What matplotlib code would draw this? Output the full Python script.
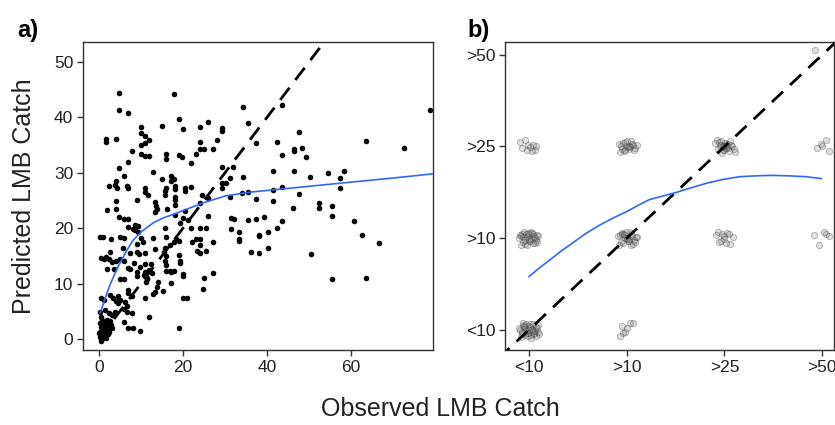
import numpy as np
import matplotlib.pyplot as plt

plt.rcParams['font.family'] = ['Liberation Sans', 'DejaVu Sans']

# Panel a: observed vs predicted LMB catch
obs_a = [1.7, 1.7, 4.0, 4.8, 4.8, 6.9, 4.8, 6.9, 6.0, 7.8, 4.0,
         2.4, 3.7, 4.2, 6.6, 6.9,
         10.0, 10.0, 11.0, 11.9, 10.0, 11.0, 10.0, 11.0, 11.9,
         12.9, 15.0, 15.0, 16.0, 16.0, 17.1, 17.1, 17.9, 17.9, 19.0, 19.0, 19.7, 20.0, 21.9, 23.1,
         24.0, 24.0, 24.0, 25.0, 26.0, 27.2, 28.0, 29.2, 29.2, 29.2, 31.9, 34.2, 34.3, 31.2, 35.4,
         37.4, 43.5, 42.3, 41.4, 43.5, 46.4, 46.4, 46.4, 47.5, 48.3, 49.3, 50.2, 54.5, 57.4, 58.3,
         63.5, 72.7, 78.8,
         11.0, 16.0, 18.0, 20.5, 22.0, 29.2, 29.2, 30.2, 41.4, 43.6, 57.4,
         11.0, 11.7, 15.7, 15.7, 18.1, 18.1, 18.1, 18.1, 20.5, 9.0, 4.0, 4.0, 1.9, 13.3, 13.6,
         13.8, 13.3, 16.2, 4.8, 5.9, 6.9, 18.1, 20.5, 24.0, 24.5, 26.0, 31.2, 34.0, 35.4, 47.6,
         37.4, 41.4, 46.2, 52.4, 52.4, 55.5, 55.5, 26.0, 31.4, 32.1, 35.4, 37.4, 39.3, 43.5, 60.6,
         8.6, 9.3, 8.6, 8.2, 9.3, 6.9, 15.7, 19.3, 20.0, 21.3, 22.0, 24.0, 25.4, 31.4,
         5.0, 6.0, 1.0, 2.9, 9.0, 10.0, 10.5, 12.9, 13.3, 16.0, 17.0, 17.8, 18.4, 15.7, 15.5,
         16.0, 15.7, 16.0, 22.1, 23.0, 24.0, 19.3, 19.3, 20.0, 19.0, 19.0, 11.0, 9.0, 9.6, 5.7,
         2.6, 7.5, 5.0, 6.0, 1.7, 2.4, 3.1, 4.0, 8.3, 9.7, 11.0, 12.5, 7.0, 7.5, 11.0, 12.0,
         2.0, 3.5, 16.0, 17.0, 17.8, 9.0,
         33.3, 33.3, 33.3, 38.1, 38.1, 40.2, 42.3, 62.6, 66.6, 27.2, 24.0, 25.4, 24.0, 23.3,
         36.2, 38.1, 40.2, 50.5, 27.2, 25.0, 55.5, 63.5,
         0.2, 0.5, 1.2, 5.0, 6.0, 9.0, 10.7, 11.5, 12.0, 12.7, 17.1, 17.1, 20.0, 13.9, 14.0,
         11.2, 11.5,
         24.8, 13.3, 15.3, 12.9, 11.0, 7.0, 7.0, 7.8, 2.6, 3.3, 4.0, 4.6, 5.0, 4.5, 6.2, 6.7,
         6.0, 6.7, 7.8, 20.0, 21.0, 11.9, 1.4, 2.4, 3.1, 3.8, 6.0, 7.0, 8.0, 9.8, 19.0, 0.3,
         0.5, 1.3,
         0.2, 0.4, 0.5, 0.6, 0.3, 0.8, 1.0, 1.1, 1.2, 1.4, 1.5, 1.6, 1.8, 2.0, 2.1, 2.3, 2.5,
         2.7, 0.7, 0.9, 1.3, 1.7, 0.1, 2.9, 3.2, 2.2, 0.6, 1.0, 1.9, 0.4]
pred_a = [36.1, 35.5, 36.1, 44.4, 41.3, 40.8, 30.9, 32.0, 29.4, 33.9, 28.5,
          27.6, 27.8, 27.3, 27.6, 27.3,
          38.3, 37.2, 36.7, 35.9, 35.0, 35.4, 33.4, 33.0, 33.0,
          30.1, 38.4, 28.9, 33.4, 32.5, 29.4, 28.5, 28.9, 44.2, 39.7, 33.2, 32.9, 37.9, 31.8, 33.4,
          38.3, 35.6, 34.3, 34.3, 39.2, 34.3, 35.9, 38.1, 37.6, 31.1, 31.1, 41.9, 29.3, 29.0, 38.9,
          35.4, 42.2, 35.6, 30.3, 33.2, 34.3, 34.0, 30.3, 37.3, 34.5, 32.9, 29.3, 29.9, 29.1, 30.3,
          35.7, 34.4, 41.4,
          27.3, 27.3, 27.6, 27.2, 27.5, 28.2, 27.3, 28.2, 26.9, 27.4, 27.3,
          26.5, 26.0, 26.7, 26.0, 27.1, 25.6, 25.0, 24.2, 26.7, 25.1, 24.9, 23.4, 23.3, 24.7, 24.0,
          23.4, 22.9, 23.4, 22.0, 21.7, 21.7, 22.4, 23.1, 24.5, 25.9, 25.5, 25.6, 26.4, 26.5, 26.2,
          25.3, 24.9, 23.6, 24.5, 23.6, 24.0, 22.2, 22.2, 21.8, 21.7, 21.5, 21.7, 22.0, 21.2, 21.2,
          20.6, 20.3, 19.6, 19.9, 19.3, 20.2, 20.0, 20.9, 21.8, 21.5, 20.0, 20.0, 20.0, 19.8,
          18.4, 18.2, 18.4, 18.0, 17.2, 18.2, 17.5, 18.2, 16.3, 18.4, 17.0, 17.5, 18.0, 16.5, 15.7,
          14.9, 14.0, 13.4, 17.5, 18.0, 17.0, 14.0, 13.7, 11.8, 15.2, 17.6, 15.5, 15.7, 15.4, 16.4,
          15.7, 15.5, 14.5, 14.0, 14.8, 14.4, 13.9, 14.0, 13.7, 13.0, 13.6, 13.6, 12.8, 12.6, 12.0, 12.3,
          12.7, 12.7, 12.3, 12.3, 12.3, 12.0,
          19.3, 18.0, 17.7, 18.8, 18.6, 19.3, 20.0, 18.8, 17.4, 17.5, 18.0, 15.8, 15.5, 15.9,
          15.7, 15.5, 16.4, 15.3, 11.9, 11.0, 10.8, 11.0,
          18.4, 14.6, 14.5, 10.8, 10.8, 11.4, 11.5, 10.8, 12.4, 11.9, 12.0, 10.1, 11.4, 9.4, 10.3,
          10.3, 11.0,
          9.0, 8.5, 8.7, 8.1, 7.4, 8.8, 8.2, 7.8, 7.9, 7.3, 6.9, 7.8, 7.0, 6.5, 6.7, 6.0,
          5.4, 4.9, 4.7, 7.4, 7.4, 4.0, 5.2, 4.6, 4.3, 4.9, 3.1, 2.0, 2.0, 1.5, 2.0, 4.9,
          7.4, 7.1,
          0.3, 0.8, 1.5, 2.2, 2.8, 0.6, 1.2, 2.0, 3.0, 0.9, 1.6, 2.5, 1.1, 1.8, 2.8, 1.3, 2.2,
          3.2, 3.4, 0.1, 0.4, 0.2, 1.0, 2.6, 1.9, 0.8, -0.3, 2.6, 3.5, 3.9]

# smoother in panel a
smooth_a_x = [0.3, 1.5, 2.6, 3.8, 5.0, 6.5, 8.0, 10.0, 13.0, 15.5, 18.5, 21.5, 25.0, 30.0,
              36.0, 48.0, 60.0, 72.0, 79.5]
smooth_a_y = [4.7, 7.4, 9.7, 11.8, 13.7, 15.8, 17.7, 19.3, 21.0, 21.9, 22.7, 23.6, 24.6, 25.8,
              26.5, 27.4, 28.3, 29.2, 29.8]

# Panel b: binned catch classes (1 = <10, 2 = >10, 3 = >25, 4 = >50), jittered positions
classes = ['<10', '>10', '>25', '>50']
obs_b = [
    # <10 / <10
    0.90, 0.93, 0.95, 0.97, 0.99, 1.01, 1.03, 1.05, 1.07, 1.09, 0.92, 0.94, 0.96, 0.98, 1.00,
    1.02, 1.04, 1.06, 1.08, 1.10, 0.91, 0.95, 0.99, 1.03, 1.07, 0.93, 0.97, 1.01, 1.05, 1.09,
    0.96, 1.00, 1.04, 0.94, 1.02,
    # <10 / >10
    0.91, 0.94, 0.97, 1.00, 1.03, 1.06, 1.09, 0.92, 0.95, 0.98, 1.01, 1.04, 1.07, 0.90, 0.93,
    0.96, 0.99, 1.02, 1.05, 1.08, 0.94, 0.98, 1.02, 1.06, 0.96, 1.00, 1.04, 0.92, 1.08, 1.00,
    # <10 / >25
    0.91, 0.96, 0.99, 1.04, 1.06, 0.98, 0.93, 1.03, 1.01, 1.07,
    # >10 / <10
    1.95, 1.93, 1.98, 2.00, 2.03, 2.06, 1.96,
    # >10 / >10
    1.91, 1.94, 1.97, 2.00, 2.03, 2.06, 2.09, 1.92, 1.95, 1.98, 2.01, 2.04, 2.07, 1.93, 1.96,
    1.99, 2.02, 2.05, 2.08, 1.95, 2.00, 2.04, 1.97, 2.02, 2.10,
    # >10 / >25
    1.92, 1.95, 1.98, 2.01, 2.04, 2.07, 2.10, 1.93, 1.96, 1.99, 2.02, 2.05, 2.08, 1.94, 1.97,
    2.00, 2.03, 2.06, 1.98, 2.02,
    # >25 / >10
    2.91, 2.94, 2.97, 3.00, 3.03, 3.06, 3.09, 2.93, 2.96, 2.99, 3.02, 3.05,
    # >25 / >25
    2.90, 2.93, 2.96, 2.99, 3.02, 3.05, 3.08, 3.11, 2.92, 2.95, 2.98, 3.01, 3.04, 3.07, 3.10,
    2.94, 2.97, 3.00, 3.03, 3.06, 2.96, 3.00, 3.04, 2.98, 3.02,
    # >50 / >10
    3.92, 3.97, 4.02, 4.04, 4.07,
    # >50 / >25
    3.95, 3.99, 4.04, 4.07, 4.00,
    # >50 / >50
    3.93]
pred_b = [
    1.02, 0.96, 1.05, 0.99, 0.93, 1.06, 1.00, 0.95, 1.03, 0.98, 0.92, 1.07, 1.01, 0.97, 1.04,
    0.94, 1.06, 0.99, 1.02, 0.96, 1.00, 1.03, 0.97, 1.01, 0.93, 0.98, 1.06, 1.03, 0.97, 1.05,
    0.94, 1.00, 0.99, 1.04, 0.91,
    2.03, 1.96, 2.05, 1.99, 2.06, 1.95, 2.02, 1.93, 2.07, 2.01, 1.97, 2.04, 1.98, 2.00, 2.05,
    1.94, 2.06, 1.99, 2.02, 1.96, 2.01, 1.93, 2.07, 2.00, 1.98, 2.04, 1.95, 2.02, 2.03, 1.97,
    3.05, 3.07, 3.02, 3.02, 2.96, 2.96, 2.98, 2.95, 2.99, 3.01,
    1.04, 0.93, 0.98, 1.02, 1.08, 1.07, 0.97,
    2.02, 1.96, 2.05, 1.99, 2.07, 1.94, 2.01, 1.93, 2.06, 2.00, 1.97, 2.04, 1.98, 2.03, 1.95,
    2.07, 1.99, 2.02, 1.96, 2.05, 2.00, 1.92, 2.03, 1.97, 2.01,
    3.03, 2.97, 3.05, 2.99, 3.06, 2.96, 3.02, 2.94, 3.04, 3.00, 2.97, 3.03, 2.98, 3.01, 2.95,
    3.06, 2.99, 3.02, 2.96, 3.00,
    2.03, 1.96, 2.05, 1.99, 2.06, 1.94, 2.01, 2.07, 1.97, 2.02, 1.95, 2.04,
    3.04, 2.97, 3.06, 2.99, 3.03, 2.95, 3.01, 2.94, 3.07, 3.00, 2.96, 3.04, 2.98, 3.02, 2.97,
    3.05, 2.93, 3.01, 2.99, 3.06, 3.02, 2.96, 3.03, 3.00, 2.98,
    2.03, 1.92, 2.07, 2.05, 2.02,
    2.98, 3.03, 3.07, 2.95, 3.01,
    4.05]

smooth_b_x = [1.00, 1.10, 1.21, 1.33, 1.45, 1.58, 1.72, 1.86, 2.00, 2.12, 2.23, 2.37, 2.51,
              2.66, 2.82, 2.98, 3.15, 3.32, 3.49, 3.66, 3.84, 3.99]
smooth_b_y = [1.58, 1.67, 1.76, 1.86, 1.95, 2.05, 2.14, 2.22, 2.29, 2.36, 2.42, 2.46, 2.50,
              2.55, 2.60, 2.64, 2.67, 2.68, 2.685, 2.68, 2.67, 2.65]

fig = plt.figure(figsize=(8.35, 4.25), dpi=100)
ax1 = fig.add_axes([83 / 835, 1 - 350 / 425, 350 / 835, 308 / 425])
ax2 = fig.add_axes([505 / 835, 1 - 350 / 425, 329 / 835, 308 / 425])

edge = '#333333'
blue = '#3366FF'

# ---- a) ----
ax1.scatter(obs_a, pred_a, s=16, color='black', linewidths=0, zorder=2)
ax1.plot([0, 60], [0, 60], color='black', lw=2.0, ls=(0, (5.5, 3.5)), zorder=3)
ax1.plot(smooth_a_x, smooth_a_y, color=blue, lw=1.2, zorder=4)
ax1.set_xlim(-3.8, 79.5)
ax1.set_ylim(-2.0, 53.6)
ax1.set_xticks([0, 20, 40, 60])
ax1.set_yticks([0, 10, 20, 30, 40, 50])

# ---- b) ----
ax2.scatter(obs_b, pred_b, s=20, facecolor=(0.4, 0.4, 0.4, 0.2),
            edgecolor=(0.25, 0.25, 0.25, 0.4), linewidths=0.6, zorder=2)
ax2.plot([0.5, 4.5], [0.5, 4.5], color='black', lw=2.0, ls=(0, (5.5, 3.5)), zorder=3)
ax2.plot(smooth_b_x, smooth_b_y, color=blue, lw=1.2, zorder=4)
ax2.set_xlim(0.755, 4.12)
ax2.set_ylim(0.78, 4.14)
ax2.set_xticks([1, 2, 3, 4])
ax2.set_xticklabels(classes)
ax2.set_yticks([1, 2, 3, 4])
ax2.set_yticklabels(classes)

for ax in (ax1, ax2):
    for sp in ax.spines.values():
        sp.set_color(edge)
        sp.set_linewidth(1.0)
    ax.tick_params(direction='out', length=4, width=1, color=edge,
                   labelsize=12.5, labelcolor='#222222', pad=3)

fig.text(17 / 835, 1 - 30 / 425, 'a)', fontsize=17, fontweight='bold', va='center', ha='left')
fig.text(467 / 835, 1 - 30 / 425, 'b)', fontsize=17, fontweight='bold', va='center', ha='left')
fig.text(24 / 835, 1 - 196 / 425, 'Predicted LMB Catch', fontsize=18, rotation=90,
         va='center', ha='center', color='#222222')
fig.text(440 / 835, 1 - 409 / 425, 'Observed LMB Catch', fontsize=18,
         va='center', ha='center', color='#222222')

fig.savefig('out.png', dpi=100)
